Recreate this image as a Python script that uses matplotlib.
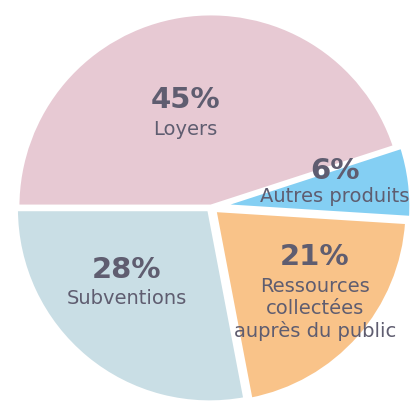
import matplotlib
matplotlib.use("Agg")
import matplotlib.pyplot as plt

labels = ["Loyers", "Autres produits", "Ressources\ncollectées\nauprès du public", "Subventions"]
values = [45, 6, 21, 28]
pct_text = ["45%", "6%", "21%", "28%"]
colors = ["#E7C9D3", "#84CFF3", "#F9C389", "#C9DEE5"]
explode = [0.0, 0.035, 0.02, 0.012]

TXT = "#5F5D70"
R = 194.0
CX, CY = 211.0, 207.0
W, H = 420, 401

fig = plt.figure(figsize=(W / 100, H / 100), dpi=100)
ax = fig.add_axes([0, 0, 1, 1])
ax.pie(values, colors=colors, startangle=180, counterclock=False, explode=explode,
       radius=1.0, wedgeprops=dict(edgecolor="white", linewidth=3.5))
ax.set_xlim(-CX / R, (W - CX) / R)
ax.set_ylim(-(H - CY) / R, CY / R)
ax.set_aspect("equal")
ax.axis("off")

def d(px, py):
    return (px - CX) / R, (CY - py) / R

# (pct pixel pos, label pixel pos)
pos = [((185, 100), (185, 130)),
       ((335, 171), (335, 197)),
       ((315, 257), (315, 309)),
       ((127, 270), (127, 299))]
for (pp, lp), p, lab in zip(pos, pct_text, labels):
    ax.text(*d(*pp), p, ha="center", va="center", fontsize=21, fontweight="bold", color=TXT)
    ax.text(*d(*lp), lab, ha="center", va="center", fontsize=14, color=TXT, linespacing=1.2)

fig.savefig("out.png", dpi=100)
